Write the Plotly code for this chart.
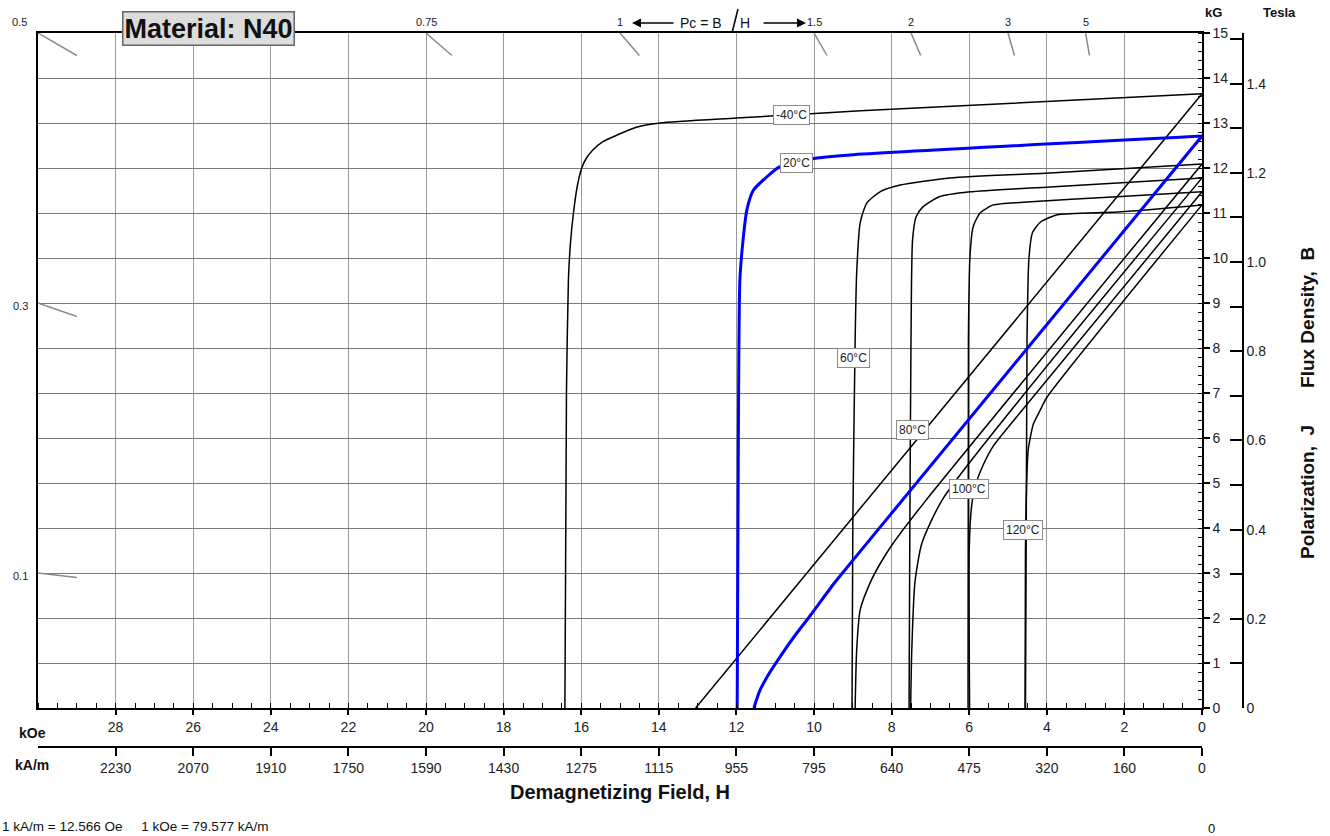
import plotly.graph_objects as go

# ---------------- data ----------------
temp_labels = ["-40°C", "20°C", "60°C", "80°C", "100°C", "120°C"]

# Intrinsic (J) curves: demagnetizing field H in kOe, J in kG
j_m40_h = [0, 8.8, 12.0, 13.97, 14.6, 15.08, 15.45, 15.7, 15.88, 15.99, 16.1, 16.2, 16.28, 16.33, 16.38, 16.42]
j_m40_b = [13.65, 13.27, 13.11, 13.0, 12.9, 12.73, 12.58, 12.4, 12.2, 11.99, 11.6, 11.0, 10.3, 9.5, 7.0, 0]
j_20_h = [0, 9.07, 10.1, 10.55, 10.9, 11.22, 11.56, 11.73, 11.82, 11.91, 11.95, 11.98]
j_20_b = [12.71, 12.29, 12.2, 12.12, 12.02, 11.8, 11.51, 11.07, 10.47, 9.51, 6.0, 0]
j_60_h = [0, 3.92, 6.49, 7.78, 8.30, 8.64, 8.81, 8.90, 8.94, 9.0, 9.02]
j_60_b = [12.09, 11.89, 11.78, 11.62, 11.47, 11.22, 10.78, 9.67, 8.18, 4.0, 0]
j_80_h = [0, 3.92, 5.98, 6.77, 7.20, 7.37, 7.46, 7.50, 7.53, 7.55]
j_80_b = [11.78, 11.58, 11.47, 11.36, 11.13, 10.91, 10.4, 8.18, 4.0, 0]
j_100_h = [0, 2.19, 4.61, 5.38, 5.72, 5.90, 5.98, 6.02, 6.03]
j_100_b = [11.47, 11.36, 11.24, 11.18, 11.0, 10.69, 10.04, 8.18, 0]
j_120_h = [0, 2.19, 3.73, 4.16, 4.37, 4.46, 4.51, 4.55]
j_120_b = [11.18, 11.02, 10.96, 10.8, 10.56, 10.0, 8.18, 0]

# Normal (B) curves
n_m40_h = [0, 13.05]
n_m40_b = [13.65, 0]
n_20_h = [0, 9.0, 9.5, 10.1, 10.5, 10.88, 11.21, 11.4, 11.55]
n_20_b = [12.71, 3.28, 2.75, 2.05, 1.6, 1.13, 0.69, 0.38, 0]
n_60_h = [0, 7.11, 7.96, 8.3, 8.56, 8.81, 8.9, 8.94]
n_60_b = [12.09, 4.62, 3.66, 3.2, 2.77, 2.18, 1.29, 0]
n_80_h = [0, 6.67, 7.22, 7.40, 7.48, 7.51]
n_80_b = [11.78, 4.66, 3.66, 2.78, 1.29, 0]
n_100_h = [0, 4.7, 5.38, 5.64, 5.85, 5.94, 6.0, 5.99]
n_100_b = [11.47, 6.55, 5.82, 5.4, 4.92, 4.47, 3.53, 0]
n_120_h = [0, 4.0, 4.18, 4.35, 4.48, 4.52, 4.55, 4.56]
n_120_b = [11.18, 6.9, 6.6, 6.3, 5.73, 5.0, 3.53, 0]

# Temperature label positions (H kOe, B kG)
label_h = [10.59, 10.44, 8.97, 7.47, 6.0, 4.61]
label_b = [13.18, 12.11, 7.78, 6.18, 4.87, 3.96]

# Permeance coefficient load lines
pc_values = [0.1, 0.3, 0.5, 0.75, 1, 1.5, 2, 3, 5]
pc_labels = ["0.1", "0.3", "0.5", "0.75", "1", "1.5", "2", "3", "5"]

# Axes
koe_ticks = [28, 26, 24, 22, 20, 18, 16, 14, 12, 10, 8, 6, 4, 2, 0]
kam_labels = ["2230", "2070", "1910", "1750", "1590", "1430", "1275", "1115",
              "955", "795", "640", "475", "320", "160", "0"]
tesla_ticks = [0, 0.2, 0.4, 0.6, 0.8, 1.0, 1.2, 1.4]
tesla_labels = ["0", "0.2", "0.4", "0.6", "0.8", "1.0", "1.2", "1.4"]

H_MAX, B_MAX = 30, 15

# ---------------- geometry helpers (pixels -> paper) ----------------
L, PR, T, PB = 38, 1262, 33, 776
PLOT_R, PLOT_B = 1202, 708
PW, PH = PR - L, PB - T
def fx(px):
    return (px - L) / PW
def fy(py):
    return (PB - py) / PH

FONT = "Liberation Sans, Arial, sans-serif"
fig = go.Figure()

# load lines
for pc in pc_values:
    h0 = min(H_MAX, B_MAX / pc)
    b0 = pc * h0
    if h0 >= H_MAX:
        h1 = H_MAX - 1.0
        b1 = pc * h1
    else:
        b1 = B_MAX - 0.5
        h1 = b1 / pc
    fig.add_trace(go.Scatter(x=[h0, h1], y=[b0, b1], mode="lines",
                             line=dict(color="#8a8a8a", width=1.5),
                             hoverinfo="skip", showlegend=False))

black_curves = [(n_m40_h, n_m40_b), (j_m40_h, j_m40_b),
                (n_60_h, n_60_b), (j_60_h, j_60_b),
                (n_80_h, n_80_b), (j_80_h, j_80_b),
                (n_100_h, n_100_b), (j_100_h, j_100_b),
                (n_120_h, n_120_b), (j_120_h, j_120_b)]
for hx, by in black_curves:
    fig.add_trace(go.Scatter(x=hx, y=by, mode="lines",
                             line=dict(color="black", width=1.5, shape="spline", smoothing=0.6),
                             hoverinfo="skip", showlegend=False))
for hx, by in [(n_20_h, n_20_b), (j_20_h, j_20_b)]:
    fig.add_trace(go.Scatter(x=hx, y=by, mode="lines",
                             line=dict(color="#0000ff", width=3, shape="spline", smoothing=0.6),
                             hoverinfo="skip", showlegend=False))

# invisible traces so the secondary (kA/m and Tesla) axes are drawn
fig.add_trace(go.Scatter(x=koe_ticks, y=[0] * len(koe_ticks), xaxis="x2", yaxis="y",
                         mode="markers", marker=dict(opacity=0), hoverinfo="skip", showlegend=False))
fig.add_trace(go.Scatter(x=[0] * len(tesla_ticks), y=tesla_ticks, xaxis="x", yaxis="y2",
                         mode="markers", marker=dict(opacity=0), hoverinfo="skip", showlegend=False))

ann = []
def text_ann(px, py, text, size, xanchor="center", yanchor="middle", bold=False, **kw):
    ann.append(dict(x=fx(px), y=fy(py), xref="paper", yref="paper",
                    text=("<b>%s</b>" % text) if bold else text, showarrow=False,
                    xanchor=xanchor, yanchor=yanchor,
                    font=dict(size=size, color="#111", family=FONT), **kw))

# temperature labels
for t, hx, by in zip(temp_labels, label_h, label_b):
    ann.append(dict(x=hx, y=by, xref="x", yref="y", text=t, showarrow=False,
                    xanchor="center", yanchor="middle",
                    font=dict(size=12, color="#222", family=FONT), bgcolor="white",
                    bordercolor="#8c8c8c", borderwidth=1, borderpad=2))
# Pc labels
for pc, lab in zip(pc_values, pc_labels):
    h0 = min(H_MAX, B_MAX / pc)
    b0 = pc * h0
    if b0 >= B_MAX and h0 >= H_MAX:
        a = dict(xanchor="right", yanchor="bottom", xshift=-9, yshift=3)
    elif h0 >= H_MAX:
        a = dict(xanchor="right", yanchor="middle", xshift=-8, yshift=-3)
    else:
        a = dict(xanchor="center", yanchor="bottom", yshift=3)
    ann.append(dict(x=h0, y=b0, xref="x", yref="y", text=lab, showarrow=False,
                    font=dict(size=11, color="#222", family=FONT), **a))

# Pc = B/H header
text_ann(724, 23, "Pc = B", 14, xanchor="right")
text_ann(738, 23, "H", 14, xanchor="left")
ann.append(dict(x=fx(632), y=fy(23), xref="paper", yref="paper", text="", showarrow=True,
                ax=43, ay=0, arrowhead=2, arrowsize=1.2, arrowwidth=1.5, arrowcolor="black"))
ann.append(dict(x=fx(806), y=fy(23), xref="paper", yref="paper", text="", showarrow=True,
                ax=-44, ay=0, arrowhead=2, arrowsize=1.2, arrowwidth=1.5, arrowcolor="black"))

# Material box
text_ann(208, 28, "Material: N40", 27, bold=True,
         bgcolor="#dcdcdc", bordercolor="#666", borderwidth=1.5, borderpad=1)
# axis headers and titles
text_ann(1213, 13, "kG", 13, bold=True)
text_ann(1279, 13, "Tesla", 13, bold=True)
text_ann(32, 733, "kOe", 14, bold=True)
text_ann(32, 765, "kA/m", 14, bold=True)
text_ann(620, 792, "Demagnetizing Field, H", 20, bold=True)
text_ann(1307, 403, "Polarization,\u00a0 J\u00a0\u00a0\u00a0\u00a0\u00a0\u00a0 Flux Density,\u00a0 B", 19,
         bold=True, textangle=-90)
text_ann(0, 826, "1 kA/m = 12.566 Oe\u00a0\u00a0\u00a0\u00a0 1 kOe = 79.577 kA/m", 13.5, xanchor="left")
text_ann(1211, 828, "0", 13)

shapes = [dict(type="line", xref="paper", yref="paper", x0=fx(732), y0=fy(33), x1=fx(738), y1=fy(9),
               line=dict(color="black", width=1.5))]

fig.update_layout(
    width=1330, height=836,
    margin=dict(l=L, r=1330 - PR, t=T, b=836 - PB),
    plot_bgcolor="white", paper_bgcolor="white",
    showlegend=False,
    font=dict(family=FONT, size=14, color="#222"),
    annotations=ann, shapes=shapes,
    xaxis=dict(domain=[0, fx(PLOT_R)], range=[H_MAX, 0], tickmode="array", tickvals=koe_ticks,
               ticks="outside", ticklen=5, tickwidth=1.5, tickcolor="black",
               showgrid=True, gridcolor="#9a9a9a", gridwidth=1, zeroline=False,
               showline=True, linecolor="black", linewidth=1.5, mirror=True,
               minor=dict(tickmode="linear", tick0=0, dtick=0.5, ticks="inside", ticklen=5,
                          tickcolor="black", tickwidth=1, showgrid=False),
               anchor="y", tickfont=dict(size=14, color="#222")),
    yaxis=dict(domain=[fy(PLOT_B), 1], range=[0, B_MAX], side="right", tickmode="linear",
               tick0=0, dtick=1, ticks="outside", ticklen=6, tickwidth=1.5, tickcolor="black",
               showgrid=True, gridcolor="#7a7a7a", gridwidth=1, zeroline=False,
               showline=True, linecolor="black", linewidth=1.5, mirror=True,
               minor=dict(tickmode="linear", tick0=0, dtick=0.2, ticks="inside", ticklen=4,
                          tickcolor="black", tickwidth=1, showgrid=False),
               anchor="x", tickfont=dict(size=14, color="#222")),
    xaxis2=dict(overlaying="x", anchor="free", position=fy(747), side="bottom",
                range=[H_MAX, 0], tickmode="array", tickvals=koe_ticks, ticktext=kam_labels,
                ticks="outside", ticklen=8, tickwidth=1.5, tickcolor="black",
                showgrid=False, zeroline=False, showline=True, linecolor="black", linewidth=1.5,
                tickfont=dict(size=14, color="#222")),
    yaxis2=dict(overlaying="y", anchor="free", position=fx(1243), side="right",
                range=[0, 1.5135], tickmode="array", tickvals=tesla_ticks, ticktext=tesla_labels,
                ticks="inside", ticklen=12, tickwidth=1.5, tickcolor="black",
                showgrid=False, zeroline=False, showline=True, linecolor="black", linewidth=1.5,
                minor=dict(tickmode="linear", tick0=0, dtick=0.1, ticks="inside", ticklen=12,
                           tickcolor="black", tickwidth=1.5, showgrid=False),
                tickfont=dict(size=14, color="#222")),
)

fig.write_html("out.html", config={"displayModeBar": False},
               post_script="document.body.style.margin='0px';")
